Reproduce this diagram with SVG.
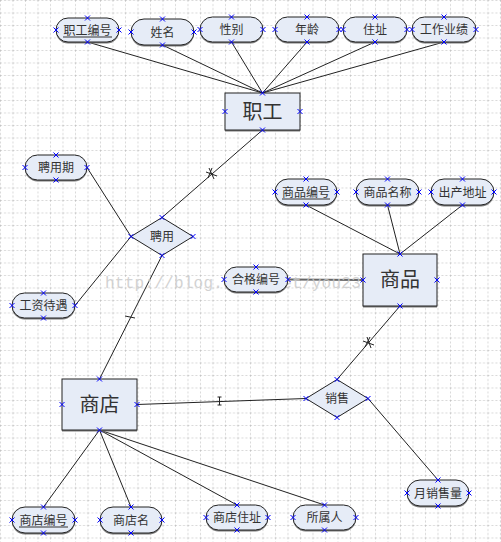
<svg xmlns="http://www.w3.org/2000/svg" xmlns:xlink="http://www.w3.org/1999/xlink" width="501" height="542" viewBox="0 0 501 542">
<defs>
<pattern id="grid" x="0" y="0" width="12.5" height="12.5" patternUnits="userSpaceOnUse">
<path d="M0 0 V12.5 M0 0 H12.5" fill="none" stroke="#b0b0b0" stroke-width="1" stroke-dasharray="2,2"/>
</pattern>
<g id="x"><path d="M-2.5,-2.5 L2.5,2.5 M-2.5,2.5 L2.5,-2.5" stroke="#0000ff" stroke-width="1" fill="none"/></g>
</defs>
<style>
.bg{fill:#ffffff}
.shape{fill:#e6ecf7;stroke:#222;stroke-width:1}
.shadow{fill:#7a7a7a;stroke:none}
.t{font-family:"Noto Sans CJK SC","Noto Sans",sans-serif;font-size:12px;fill:#333;text-anchor:middle}
.big{font-family:"Noto Sans CJK SC","Noto Sans",sans-serif;font-size:20px;fill:#333;text-anchor:middle}
.ul{stroke:#333;stroke-width:1}
.ln{stroke:#222;stroke-width:1;fill:none}
.wm{font-family:"Liberation Mono",monospace;font-size:16px;fill:#c8c8c8;opacity:0.8}
</style>
<rect class="bg" width="501" height="542"/>
<rect width="501" height="542" fill="url(#grid)"/>

<g id="connectors">
<path class="ln" d="M87.5,42 L262.5,93"/>
<path class="ln" d="M162.5,45 L262.5,93"/>
<path class="ln" d="M231.5,42 L262.5,93"/>
<path class="ln" d="M307,42 L262.5,93"/>
<path class="ln" d="M375,42 L262.5,93"/>
<path class="ln" d="M444,42 L262.5,93"/>
<path class="ln" d="M87,167.5 L131,236.5"/>
<path class="ln" d="M75,305.5 L131,236.5"/>
<path class="ln" d="M162,217.5 L262.5,130"/>
<path class="ln" d="M162,255.5 L99.5,379"/>
<path class="ln" d="M306,205 L400,254"/>
<path class="ln" d="M387.5,205 L400,254"/>
<path class="ln" d="M462.5,205 L400,254"/>
<path d="M288,279.5 L363,280" stroke="#666" stroke-width="2" fill="none"/>
<path class="ln" d="M400,306 L337,379.5"/>
<path class="ln" d="M368,398.5 L438,480"/>
<path class="ln" d="M137,404.5 L306,398.5"/>
<path class="ln" d="M99.5,430 L43.5,507"/>
<path class="ln" d="M99.5,430 L131,507"/>
<path class="ln" d="M99.5,430 L237,505"/>
<path class="ln" d="M99.5,430 L324.5,505"/>
<path class="ln" d="M206,172 L217,176 M209,168 L214,179 M212,168 L208,178"/>
<path class="ln" d="M125,316 L135,318"/>
<path class="ln" d="M219.5,397 L219.5,405 M217.5,397 L221.5,397 M217.5,405 L221.5,405"/>
<path class="ln" d="M363,341 L374,345 M367,337 L371,348 M370,337 L365,347"/>
</g>

<text class="wm" x="105" y="288" textLength="305" lengthAdjust="spacing">http://blog.csdn.net/you23hai45</text>

<g id="n_zgbh"><rect class="shadow" x="56" y="19.5" width="63" height="24" rx="12"/><rect class="shape" x="56" y="18" width="63" height="24" rx="12"/><text class="t" x="87.5" y="34.5">职工编号</text><line class="ul" x1="63" y1="37" x2="112" y2="37"/></g>
<g id="n_xm"><rect class="shadow" x="131" y="20.5" width="63" height="26" rx="13"/><rect class="shape" x="131" y="19" width="63" height="26" rx="13"/><text class="t" x="162.5" y="36.5">姓名</text></g>
<g id="n_xb"><rect class="shadow" x="200" y="18.5" width="63" height="25" rx="12.5"/><rect class="shape" x="200" y="17" width="63" height="25" rx="12.5"/><text class="t" x="231.5" y="34">性别</text></g>
<g id="n_nl"><rect class="shadow" x="275" y="18.5" width="64" height="25" rx="12.5"/><rect class="shape" x="275" y="17" width="64" height="25" rx="12.5"/><text class="t" x="307" y="34">年龄</text></g>
<g id="n_zz"><rect class="shadow" x="343" y="18.5" width="64" height="25" rx="12.5"/><rect class="shape" x="343" y="17" width="64" height="25" rx="12.5"/><text class="t" x="375" y="34">住址</text></g>
<g id="n_gzyj"><rect class="shadow" x="412" y="18.5" width="64" height="25" rx="12.5"/><rect class="shape" x="412" y="17" width="64" height="25" rx="12.5"/><text class="t" x="444" y="34">工作业绩</text></g>

<g id="n_zg"><rect class="shadow" x="225" y="94.5" width="75" height="37"/><rect class="shape" x="225" y="93" width="75" height="37"/><text class="big" x="262.5" y="119">职工</text></g>

<g id="n_pyq"><rect class="shadow" x="25" y="156.5" width="62" height="25" rx="12.5"/><rect class="shape" x="25" y="155" width="62" height="25" rx="12.5"/><text class="t" x="56" y="172">聘用期</text></g>
<g id="n_gzdy"><rect class="shadow" x="12" y="294.5" width="63" height="25" rx="12.5"/><rect class="shape" x="12" y="293" width="63" height="25" rx="12.5"/><text class="t" x="43.5" y="310">工资待遇</text></g>
<g id="n_py"><polygon class="shape" points="131,236.5 162,217.5 193,236.5 162,255.5"/><text class="t" x="162" y="241">聘用</text></g>

<g id="n_spbh"><rect class="shadow" x="275" y="180.5" width="62" height="26" rx="13"/><rect class="shape" x="275" y="179" width="62" height="26" rx="13"/><text class="t" x="306" y="196.5">商品编号</text><line class="ul" x1="282" y1="199" x2="330" y2="199"/></g>
<g id="n_spmc"><rect class="shadow" x="356" y="180.5" width="63" height="26" rx="13"/><rect class="shape" x="356" y="179" width="63" height="26" rx="13"/><text class="t" x="387.5" y="196.5">商品名称</text></g>
<g id="n_csdz"><rect class="shadow" x="431" y="180.5" width="63" height="26" rx="13"/><rect class="shape" x="431" y="179" width="63" height="26" rx="13"/><text class="t" x="462.5" y="196.5">出产地址</text></g>
<g id="n_hgbh"><rect class="shadow" x="224" y="268.5" width="64" height="25" rx="12.5"/><rect class="shape" x="224" y="267" width="64" height="25" rx="12.5"/><text class="t" x="256" y="284">合格编号</text></g>
<g id="n_sp"><rect class="shadow" x="363" y="255.5" width="74" height="52"/><rect class="shape" x="363" y="254" width="74" height="52"/><text class="big" x="400" y="287">商品</text></g>

<g id="n_xs"><polygon class="shape" points="306,398.5 337,379.5 368,398.5 337,417.5"/><text class="t" x="337" y="403">销售</text></g>
<g id="n_yxsl"><rect class="shadow" x="407" y="481.5" width="62" height="26" rx="13"/><rect class="shape" x="407" y="480" width="62" height="26" rx="13"/><text class="t" x="438" y="497.5">月销售量</text></g>

<g id="n_sd"><rect class="shadow" x="62" y="380.5" width="75" height="51"/><rect class="shape" x="62" y="379" width="75" height="51"/><text class="big" x="99.5" y="411.5">商店</text></g>
<g id="n_sdbh"><rect class="shadow" x="12" y="508.5" width="63" height="26" rx="13"/><rect class="shape" x="12" y="507" width="63" height="26" rx="13"/><text class="t" x="43.5" y="524.5">商店编号</text><line class="ul" x1="19" y1="527" x2="68" y2="527"/></g>
<g id="n_sdm"><rect class="shadow" x="100" y="508.5" width="62" height="26" rx="13"/><rect class="shape" x="100" y="507" width="62" height="26" rx="13"/><text class="t" x="131" y="524.5">商店名</text></g>
<g id="n_sdzz"><rect class="shadow" x="206" y="506.5" width="62" height="25" rx="12.5"/><rect class="shape" x="206" y="505" width="62" height="25" rx="12.5"/><text class="t" x="237" y="522">商店住址</text></g>
<g id="n_ssr"><rect class="shadow" x="293" y="506.5" width="63" height="25" rx="12.5"/><rect class="shape" x="293" y="505" width="63" height="25" rx="12.5"/><text class="t" x="324.5" y="522">所属人</text></g>

<g id="points">
<use xlink:href="#x" x="87.5" y="18"/><use xlink:href="#x" x="87.5" y="42"/><use xlink:href="#x" x="56" y="30"/><use xlink:href="#x" x="119" y="30"/>
<use xlink:href="#x" x="162.5" y="19"/><use xlink:href="#x" x="162.5" y="45"/><use xlink:href="#x" x="131" y="32"/><use xlink:href="#x" x="194" y="32"/>
<use xlink:href="#x" x="231.5" y="17"/><use xlink:href="#x" x="231.5" y="42"/><use xlink:href="#x" x="200" y="29.5"/><use xlink:href="#x" x="263" y="29.5"/>
<use xlink:href="#x" x="307" y="17"/><use xlink:href="#x" x="307" y="42"/><use xlink:href="#x" x="275" y="29.5"/><use xlink:href="#x" x="339" y="29.5"/>
<use xlink:href="#x" x="375" y="17"/><use xlink:href="#x" x="375" y="42"/><use xlink:href="#x" x="343" y="29.5"/><use xlink:href="#x" x="407" y="29.5"/>
<use xlink:href="#x" x="444" y="17"/><use xlink:href="#x" x="444" y="42"/><use xlink:href="#x" x="412" y="29.5"/><use xlink:href="#x" x="476" y="29.5"/>
<use xlink:href="#x" x="262.5" y="93"/><use xlink:href="#x" x="262.5" y="130"/><use xlink:href="#x" x="225" y="111.5"/><use xlink:href="#x" x="300" y="111.5"/>
<use xlink:href="#x" x="56" y="155"/><use xlink:href="#x" x="56" y="180"/><use xlink:href="#x" x="25" y="167.5"/><use xlink:href="#x" x="87" y="167.5"/>
<use xlink:href="#x" x="43.5" y="293"/><use xlink:href="#x" x="43.5" y="318"/><use xlink:href="#x" x="12" y="305.5"/><use xlink:href="#x" x="75" y="305.5"/>
<use xlink:href="#x" x="162" y="217.5"/><use xlink:href="#x" x="162" y="255.5"/><use xlink:href="#x" x="131" y="236.5"/><use xlink:href="#x" x="193" y="236.5"/>
<use xlink:href="#x" x="306" y="179"/><use xlink:href="#x" x="306" y="205"/><use xlink:href="#x" x="275" y="192"/><use xlink:href="#x" x="337" y="192"/>
<use xlink:href="#x" x="387.5" y="179"/><use xlink:href="#x" x="387.5" y="205"/><use xlink:href="#x" x="356" y="192"/><use xlink:href="#x" x="419" y="192"/>
<use xlink:href="#x" x="462.5" y="179"/><use xlink:href="#x" x="462.5" y="205"/><use xlink:href="#x" x="431" y="192"/><use xlink:href="#x" x="494" y="192"/>
<use xlink:href="#x" x="256" y="267"/><use xlink:href="#x" x="256" y="292"/><use xlink:href="#x" x="224" y="279.5"/><use xlink:href="#x" x="288" y="279.5"/>
<use xlink:href="#x" x="400" y="254"/><use xlink:href="#x" x="400" y="306"/><use xlink:href="#x" x="363" y="280"/><use xlink:href="#x" x="437" y="280"/>
<use xlink:href="#x" x="337" y="379.5"/><use xlink:href="#x" x="337" y="417.5"/><use xlink:href="#x" x="306" y="398.5"/><use xlink:href="#x" x="368" y="398.5"/>
<use xlink:href="#x" x="438" y="480"/><use xlink:href="#x" x="438" y="506"/><use xlink:href="#x" x="407" y="493"/><use xlink:href="#x" x="469" y="493"/>
<use xlink:href="#x" x="99.5" y="379"/><use xlink:href="#x" x="99.5" y="430"/><use xlink:href="#x" x="62" y="404.5"/><use xlink:href="#x" x="137" y="404.5"/>
<use xlink:href="#x" x="43.5" y="507"/><use xlink:href="#x" x="43.5" y="533"/><use xlink:href="#x" x="12" y="520"/><use xlink:href="#x" x="75" y="520"/>
<use xlink:href="#x" x="131" y="507"/><use xlink:href="#x" x="131" y="533"/><use xlink:href="#x" x="100" y="520"/><use xlink:href="#x" x="162" y="520"/>
<use xlink:href="#x" x="237" y="505"/><use xlink:href="#x" x="237" y="530"/><use xlink:href="#x" x="206" y="517.5"/><use xlink:href="#x" x="268" y="517.5"/>
<use xlink:href="#x" x="324.5" y="505"/><use xlink:href="#x" x="324.5" y="530"/><use xlink:href="#x" x="293" y="517.5"/><use xlink:href="#x" x="356" y="517.5"/>
</g>
</svg>
